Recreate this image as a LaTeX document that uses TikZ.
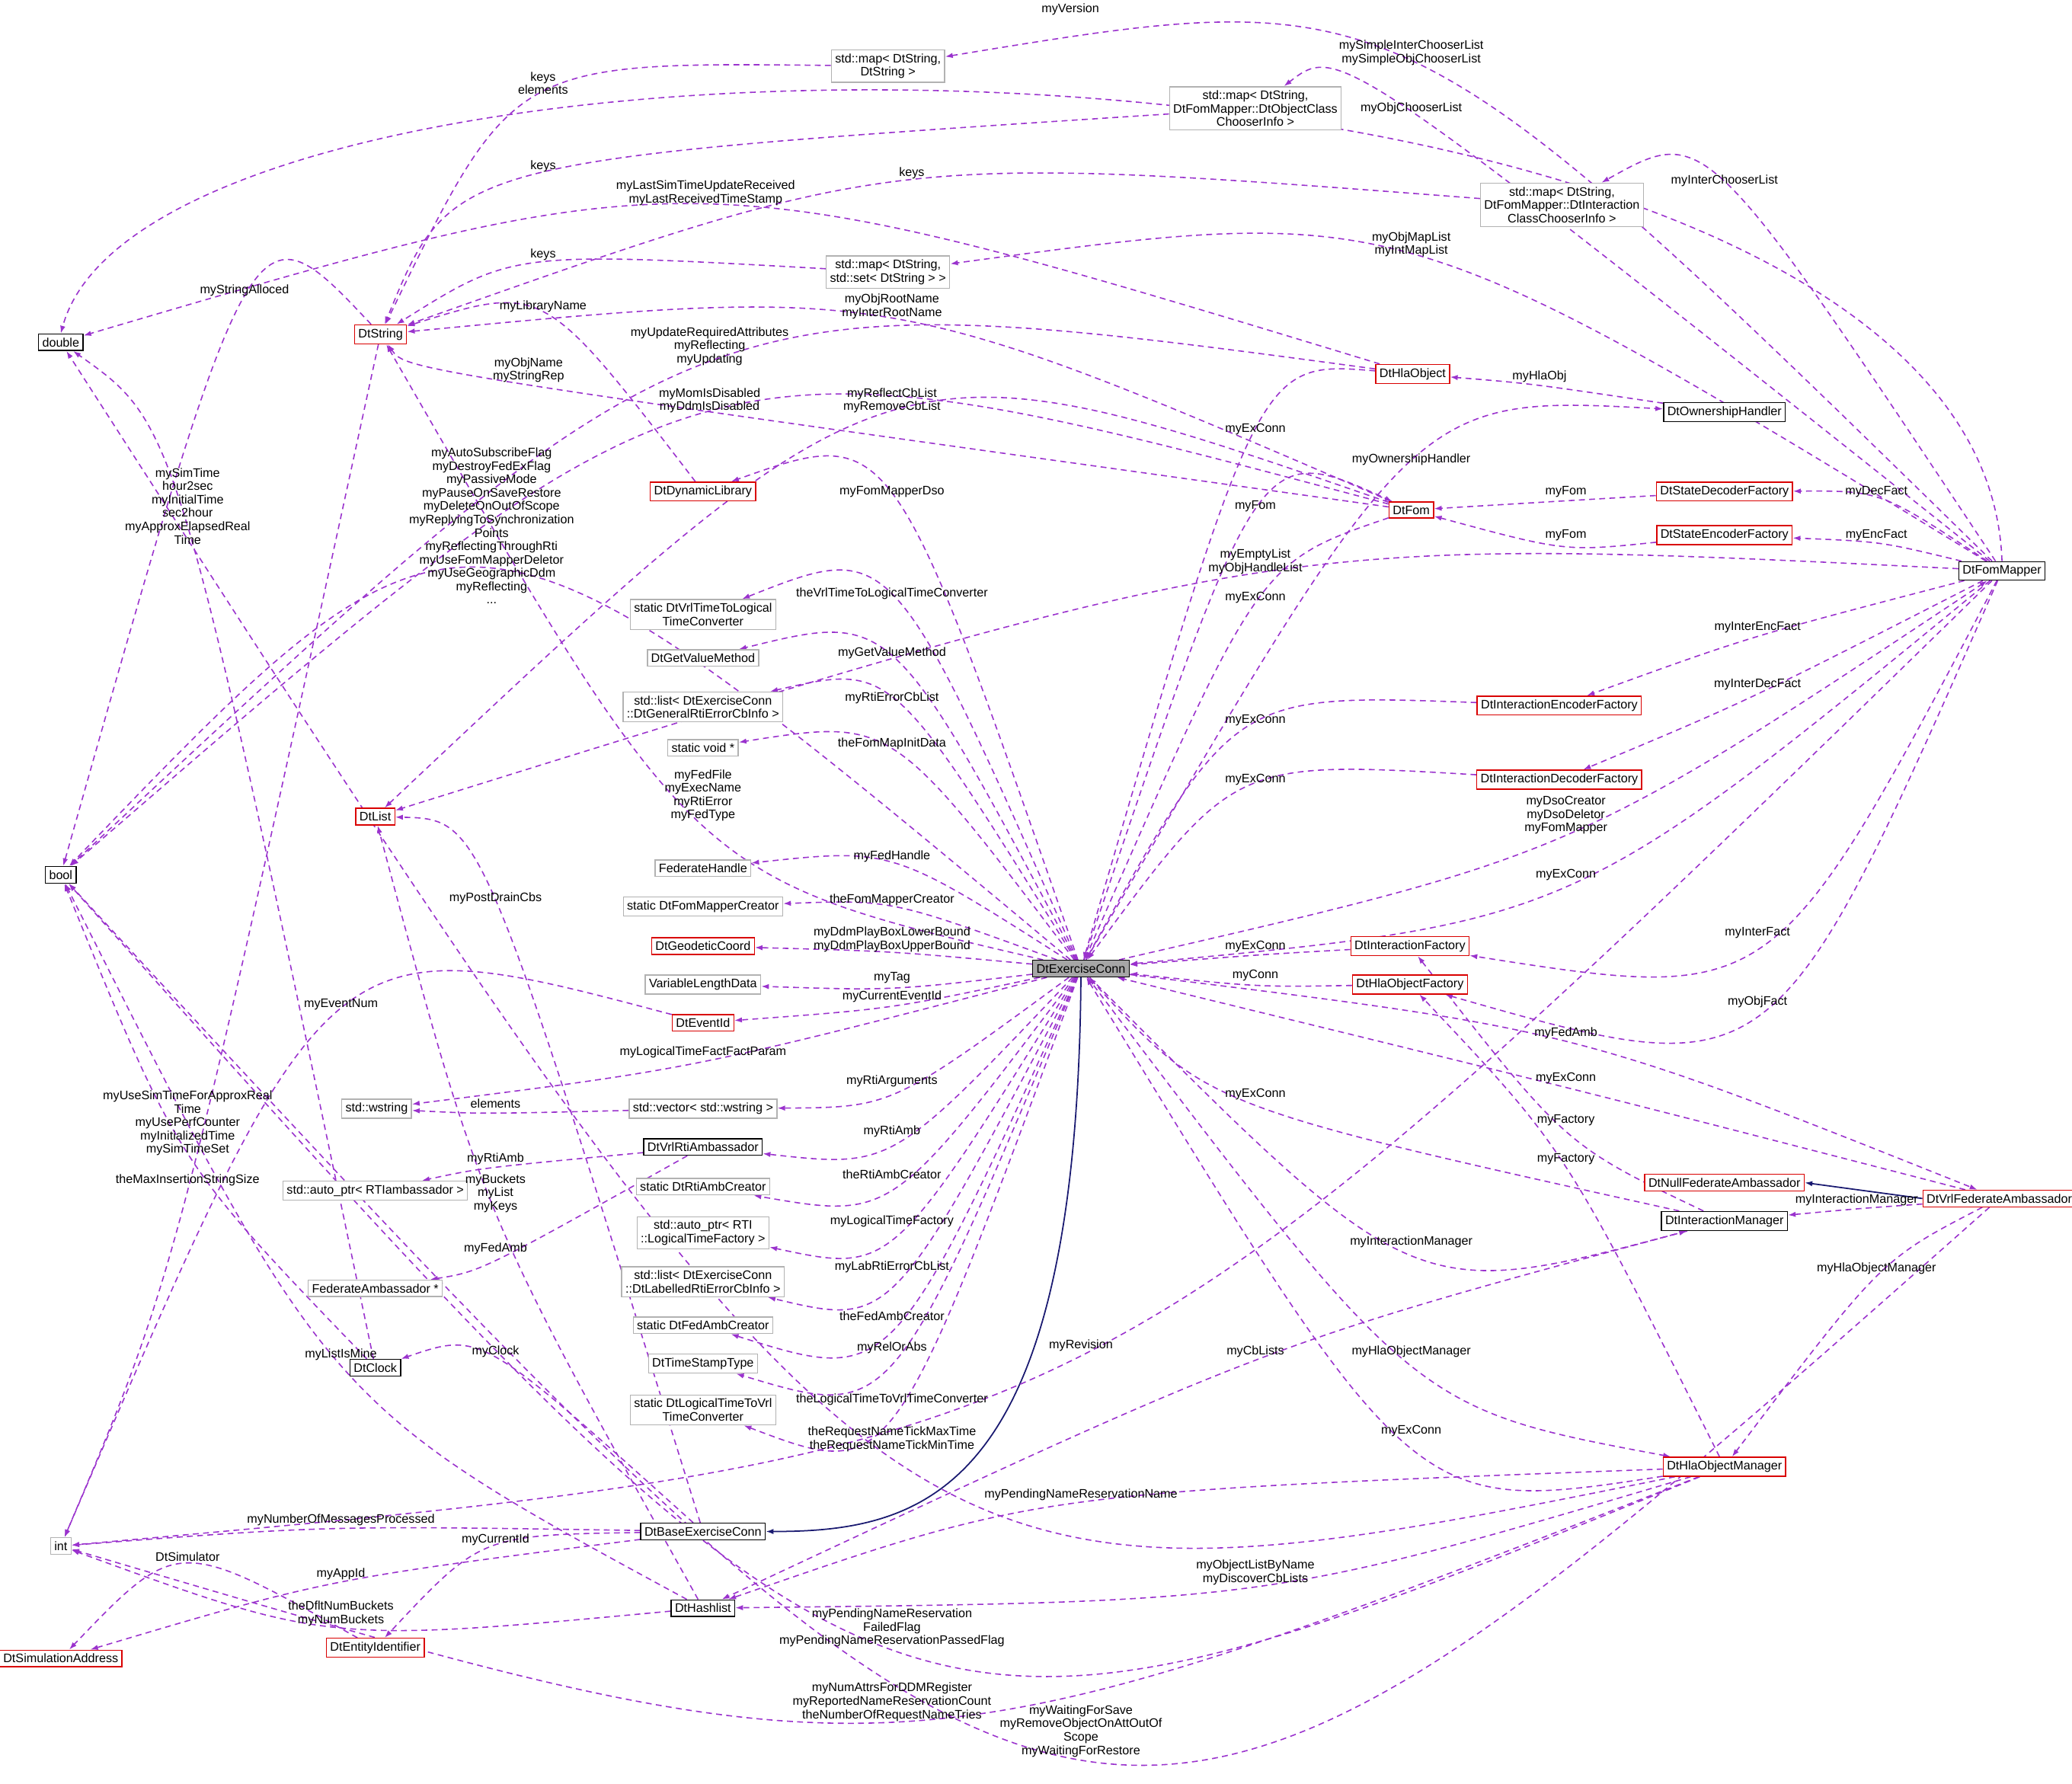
\documentclass[tikz,border=0pt]{standalone}
\usepackage{fontspec}
\setmainfont{Liberation Sans}
\usetikzlibrary{arrows.meta,backgrounds,calc}
\definecolor{relcol}{HTML}{9A32CD}
\definecolor{inhcol}{HTML}{191970}
\tikzset{
  box/.style={draw, line width=0.4pt, inner sep=1.4pt, minimum height=0.19cm, align=center, fill=white},
  blk/.style={box, draw=black},
  red/.style={box, draw=red!85!black},
  gry/.style={box, draw=black!30},
  lbl/.style={align=center, inner sep=0.5pt},
  rel/.style={dashed, dash pattern=on 2.2pt off 1.6pt, draw=relcol, line width=0.45pt, -{Latex[length=0.1cm,width=0.07cm]}},
  inh/.style={draw=inhcol, line width=0.5pt, -{Latex[length=0.1cm,width=0.07cm]}}
}
% #1 offset of route below label, #2 source, #3 target, #4,#5 label centre, #6 text
\newcommand\rel[6][7]{%
  \coordinate (rl) at ({#4},{#5+#1});
  \coordinate (rc) at ($(rl)!-0.3333!($(#2)!0.5!(#3)$)$);
  \begin{pgfonlayer}{background}
  \draw[rel] (#2) .. controls (rc) and (rc) .. (#3);
  \end{pgfonlayer}
  \node[lbl] at ({#4},{#5}) {#6};}
\begin{document}
\begin{tikzpicture}[x=0.01735cm, y=-0.01735cm, font=\fontsize{4.6}{5}\selectfont]
\useasboundingbox (0,0) rectangle (1568,1350);

% left column
\node[blk] (double) at (46,259) {double};
\node[blk] (bool) at (46,662) {bool};
\node[gry] (int) at (46,1170) {int};
\node[red] (simaddr) at (46,1255) {DtSimulationAddress};

% upper maps
\node[red] (dtstring) at (288,253) {DtString};
\node[gry] (mapstr) at (672,50) {std::map< DtString,\\DtString >};
\node[gry] (mapobj) at (950,82) {std::map< DtString,\\DtFomMapper::DtObjectClass\\ChooserInfo >};
\node[gry] (mapint) at (1182,155) {std::map< DtString,\\DtFomMapper::DtInteraction\\ClassChooserInfo >};
\node[gry] (mapset) at (672,206) {std::map< DtString,\\std::set< DtString > >};

% right part
\node[red] (hlaobj) at (1069,283) {DtHlaObject};
\node[blk] (ownh) at (1305,312) {DtOwnershipHandler};
\node[red] (dynlib) at (532,372) {DtDynamicLibrary};
\node[red] (fom) at (1068,386) {DtFom};
\node[red] (sdec) at (1305,372) {DtStateDecoderFactory};
\node[red] (senc) at (1305,405) {DtStateEncoderFactory};
\node[blk] (fommap) at (1515,432) {DtFomMapper};
\node[red] (ienc) at (1180,534) {DtInteractionEncoderFactory};
\node[red] (idec) at (1180,590) {DtInteractionDecoderFactory};
\node[red] (ifact) at (1067,716) {DtInteractionFactory};
\node[red] (hfact) at (1067,745) {DtHlaObjectFactory};
\node[red] (nullfa) at (1305,895) {DtNullFederateAmbassador};
\node[red] (vrlfa) at (1513,907) {DtVrlFederateAmbassador};
\node[blk] (imgr) at (1305,924) {DtInteractionManager};
\node[red] (hmgr) at (1305,1110) {DtHlaObjectManager};

% central column
\node[box, draw=black, fill=black!35] (exconn) at (818,733) {DtExerciseConn};
\node[gry] (vrl2log) at (532,465) {static DtVrlTimeToLogical\\TimeConverter};
\node[gry] (getval) at (532,498) {DtGetValueMethod};
\node[gry] (generr) at (532,535) {std::list< DtExerciseConn\\::DtGeneralRtiErrorCbInfo >};
\node[gry] (voidp) at (532,566) {static void *};
\node[red] (dtlist) at (284,618) {DtList};
\node[gry] (fedh) at (532,657) {FederateHandle};
\node[gry] (fmcreat) at (532,686) {static DtFomMapperCreator};
\node[red] (geo) at (532,716) {DtGeodeticCoord};
\node[gry] (vld) at (532,745) {VariableLengthData};
\node[red] (evid) at (532,774) {DtEventId};
\node[gry] (wstr) at (285,839) {std::wstring};
\node[gry] (wvec) at (532,839) {std::vector< std::wstring >};
\node[blk] (rtiamb) at (532,868) {DtVrlRtiAmbassador};
\node[gry] (aprti) at (284,901) {std::auto\_ptr< RTIambassador >};
\node[gry] (rticreat) at (532,898) {static DtRtiAmbCreator};
\node[gry] (apltf) at (532,933) {std::auto\_ptr< RTI\\::LogicalTimeFactory >};
\node[gry] (laberr) at (532,970) {std::list< DtExerciseConn\\::DtLabelledRtiErrorCbInfo >};
\node[gry] (fedambp) at (284,975) {FederateAmbassador *};
\node[gry] (facreat) at (532,1003) {static DtFedAmbCreator};
\node[gry] (tst) at (532,1032) {DtTimeStampType};
\node[gry] (log2vrl) at (532,1067) {static DtLogicalTimeToVrl\\TimeConverter};
\node[blk] (clock) at (284,1035) {DtClock};
\node[blk] (base) at (532,1159) {DtBaseExerciseConn};
\node[blk] (hash) at (532,1217) {DtHashlist};
\node[red] (entid) at (284,1247) {DtEntityIdentifier};

% inheritance
\begin{pgfonlayer}{background}
\draw[inh] (exconn.south) .. controls (815,1130) and (700,1159) .. (base.east);
\draw[inh] (vrlfa.west) -- (nullfa.east);
\draw[rel] (fommap.north) .. controls (1500,-10) and (120,-20) .. (double.north);
\end{pgfonlayer}
\node[lbl] (lver) at (810,7) {myVersion};

% top
\rel[10]{fommap}{mapstr}{1068}{40}{mySimpleInterChooserList\\mySimpleObjChooserList}
\rel{fommap}{mapobj}{1068}{82}{myObjChooserList}
\rel{fommap}{mapint}{1305}{137}{myInterChooserList}
\rel[10]{fommap}{mapset}{1068}{185}{myObjMapList\\myIntMapList}
\rel[10]{mapstr}{dtstring}{411}{63}{keys\\elements}
\rel{mapobj}{dtstring}{411}{126}{keys}
\rel{mapint}{dtstring}{690}{131}{keys}
\rel{mapset}{dtstring}{411}{193}{keys}
\rel[10]{hlaobj}{double}{534}{146}{myLastSimTimeUpdateReceived\\myLastReceivedTimeStamp}
\rel{dtstring}{bool}{185}{220}{myStringAlloced}
\rel{dtstring}{int}{142}{893}{theMaxInsertionStringSize}
\rel{dynlib}{dtstring}{411}{232}{myLibraryName}
\rel[10]{fom}{dtstring}{675}{232}{myObjRootName\\myInterRootName}
\rel[14]{hlaobj}{bool}{537}{262}{myUpdateRequiredAttributes\\myReflecting\\myUpdating}
\rel[10]{fom}{dtstring}{400}{280}{myObjName\\myStringRep}
\rel[10]{fom}{bool}{537}{303}{myMomIsDisabled\\myDdmIsDisabled}
\rel[10]{fom}{dtlist}{675}{303}{myReflectCbList\\myRemoveCbList}
\rel[34]{exconn}{bool}{372}{398}{myAutoSubscribeFlag\\myDestroyFedExFlag\\myPassiveMode\\myPauseOnSaveRestore\\myDeleteOnOutOfScope\\myReplyingToSynchronization\\Points\\myReflectingThroughRti\\myUseFomMapperDeletor\\myUseGeographicDdm\\myReflecting\\...}
\rel[20]{clock}{double}{142}{383}{mySimTime\\hour2sec\\myInitialTime\\sec2hour\\myApproxElapsedReal\\Time}
\rel[10]{fommap}{dtlist}{950}{425}{myEmptyList\\myObjHandleList}
\rel{hlaobj}{exconn}{950}{325}{myExConn}
\rel{exconn}{ownh}{1068}{348}{myOwnershipHandler}
\rel{ownh}{hlaobj}{1165}{285}{myHlaObj}
\rel{exconn}{fom}{950}{383}{myFom}
\rel{fom}{exconn}{950}{452}{myExConn}
\rel{sdec}{fom}{1185}{372}{myFom}
\rel{senc}{fom}{1185}{405}{myFom}
\rel{fommap}{sdec}{1420}{372}{myDecFact}
\rel{fommap}{senc}{1420}{405}{myEncFact}
\rel{fommap}{ienc}{1330}{475}{myInterEncFact}
\rel{fommap}{idec}{1330}{518}{myInterDecFact}
\rel{ienc}{exconn}{950}{545}{myExConn}
\rel{idec}{exconn}{950}{590}{myExConn}
\rel[14]{exconn}{fommap}{1185}{617}{myDsoCreator\\myDsoDeletor\\myFomMapper}
\rel{fommap}{exconn}{1185}{662}{myExConn}
\rel{fommap}{ifact}{1330}{706}{myInterFact}
\rel{fommap}{hfact}{1330}{758}{myObjFact}
\rel{ifact}{exconn}{950}{716}{myExConn}
\rel{hfact}{exconn}{950}{738}{myConn}

% central fan
\rel{exconn}{dynlib}{675}{372}{myFomMapperDso}
\rel{exconn}{vrl2log}{675}{449}{theVrlTimeToLogicalTimeConverter}
\rel{exconn}{getval}{675}{494}{myGetValueMethod}
\rel{exconn}{generr}{675}{528}{myRtiErrorCbList}
\rel{exconn}{voidp}{675}{563}{theFomMapInitData}
\rel[20]{exconn}{dtstring}{532}{602}{myFedFile\\myExecName\\myRtiError\\myFedType}
\rel{exconn}{fedh}{675}{648}{myFedHandle}
\rel{exconn}{fmcreat}{675}{681}{theFomMapperCreator}
\rel[10]{exconn}{geo}{675}{711}{myDdmPlayBoxLowerBound\\myDdmPlayBoxUpperBound}
\rel{exconn}{vld}{675}{740}{myTag}
\rel{exconn}{evid}{675}{754}{myCurrentEventId}
\rel{exconn}{wstr}{532}{796}{myLogicalTimeFactFactParam}
\rel{exconn}{wvec}{675}{818}{myRtiArguments}
\rel{wvec}{wstr}{375}{835}{elements}
\rel{exconn}{rtiamb}{675}{856}{myRtiAmb}
\rel{rtiamb}{aprti}{375}{877}{myRtiAmb}
\rel{exconn}{rticreat}{675}{889}{theRtiAmbCreator}
\rel{exconn}{apltf}{675}{924}{myLogicalTimeFactory}
\rel{exconn}{laberr}{675}{959}{myLabRtiErrorCbList}
\rel{rtiamb}{fedambp}{375}{945}{myFedAmb}
\rel{exconn}{facreat}{675}{996}{theFedAmbCreator}
\rel{exconn}{tst}{675}{1020}{myRelOrAbs}
\rel{exconn}{log2vrl}{675}{1059}{theLogicalTimeToVrlTimeConverter}
\rel{evid}{int}{258}{760}{myEventNum}
\rel{base}{dtlist}{375}{680}{myPostDrainCbs}
\rel[14]{hash}{dtlist}{375}{903}{myBuckets\\myList\\myKeys}
\rel{base}{clock}{375}{1023}{myClock}
\rel[22]{clock}{bool}{142}{850}{myUseSimTimeForApproxReal\\Time\\myUsePerfCounter\\myInitializedTime\\mySimTimeSet}
\rel{hash}{bool}{258}{1025}{myListIsMine}
\rel{base}{int}{258}{1150}{myNumberOfMessagesProcessed}
\rel{base}{entid}{375}{1165}{myCurrentId}
\rel{entid}{simaddr}{142}{1178}{DtSimulator}
\rel{base}{simaddr}{258}{1191}{myAppId}
\rel[10]{hash}{int}{258}{1221}{theDfltNumBuckets\\myNumBuckets}

% managers
\rel{exconn}{vrlfa}{1185}{782}{myFedAmb}
\rel{vrlfa}{exconn}{1185}{816}{myExConn}
\rel{imgr}{ifact}{1185}{848}{myFactory}
\rel{imgr}{exconn}{950}{828}{myExConn}
\rel{exconn}{imgr}{1068}{940}{myInteractionManager}
\rel{vrlfa}{imgr}{1405}{908}{myInteractionManager}
\rel{hmgr}{hfact}{1185}{877}{myFactory}
\rel{vrlfa}{hmgr}{1420}{960}{myHlaObjectManager}
\rel{exconn}{hmgr}{1068}{1023}{myHlaObjectManager}
\rel{hmgr}{exconn}{1068}{1083}{myExConn}
\rel{fommap}{int}{818}{1018}{myRevision}
\rel{imgr}{hash}{950}{1023}{myCbLists}
\rel[10]{hmgr}{double}{675}{1089}{theRequestNameTickMaxTime\\theRequestNameTickMinTime}
\rel{hmgr}{hash}{818}{1131}{myPendingNameReservationName}
\rel[10]{hmgr}{hash}{950}{1190}{myObjectListByName\\myDiscoverCbLists}
\rel[14]{hmgr}{bool}{675}{1232}{myPendingNameReservation\\FailedFlag\\myPendingNameReservationPassedFlag}
\rel[14]{hmgr}{int}{675}{1288}{myNumAttrsForDDMRegister\\myReportedNameReservationCount\\theNumberOfRequestNameTries}
\rel[20]{vrlfa}{bool}{818}{1310}{myWaitingForSave\\myRemoveObjectOnAttOutOf\\Scope\\myWaitingForRestore}
\end{tikzpicture}
\end{document}
